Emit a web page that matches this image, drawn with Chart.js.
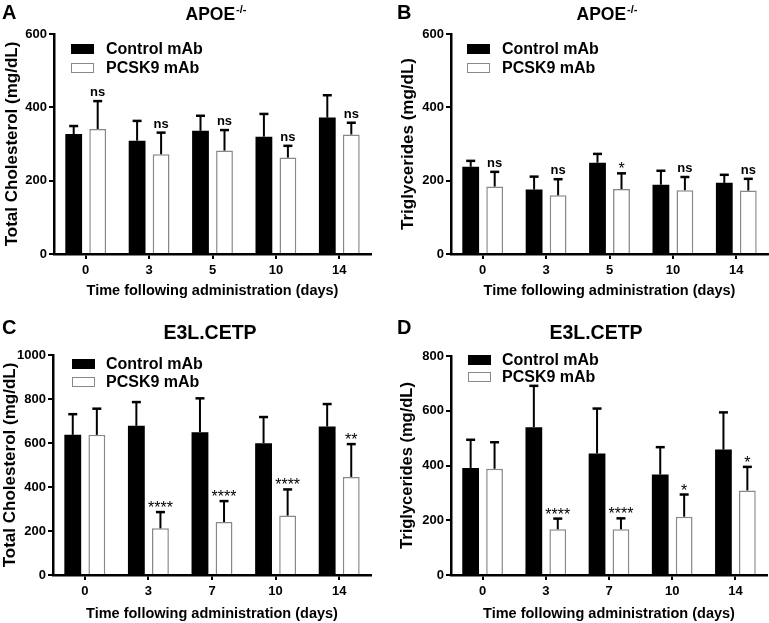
<!DOCTYPE html>
<html>
<head>
<meta charset="utf-8">
<style>
    body { margin: 0; background: #fff; }
    #wrap { position: relative; width: 769px; height: 623px; }
    canvas { position: absolute; }
</style>
</head>
<body>
<div id="wrap">
    <canvas id="panelA" width="385" height="300" style="left:0;top:0"></canvas>
    <canvas id="panelB" width="384" height="300" style="left:385px;top:0"></canvas>
    <canvas id="panelC" width="385" height="323" style="left:0;top:300px"></canvas>
    <canvas id="panelD" width="384" height="323" style="left:385px;top:300px"></canvas>
</div>

<script src="https://cdn.jsdelivr.net/npm/chart.js@4"></script>
<script>
    // days after dosing
    const daysApoe = ['0', '3', '5', '10', '14'];
    const daysE3l = ['0', '3', '7', '10', '14'];
    const seriesNames = ['Control mAb', 'PCSK9 mAb'];

    // A: APOE-/- total cholesterol (mean, upper SD)
    const tcApoeControl = [327, 309, 336, 320, 372];
    const tcApoeControlErr = [22, 54, 41, 62, 61];
    const tcApoePcsk9 = [341, 272, 282, 263, 326];
    const tcApoePcsk9Err = [76, 59, 56, 32, 32];
    const tcApoeSig = ['ns', 'ns', 'ns', 'ns', 'ns'];

    // B: APOE-/- triglycerides
    const tgApoeControl = [238, 176, 249, 189, 194];
    const tgApoeControlErr = [16, 35, 24, 38, 22];
    const tgApoePcsk9 = [184, 160, 177, 174, 173];
    const tgApoePcsk9Err = [40, 44, 43, 36, 32];
    const tgApoeSig = ['ns', 'ns', '*', 'ns', 'ns'];

    // C: E3L.CETP total cholesterol
    const tcE3lControl = [637, 678, 649, 599, 675];
    const tcE3lControlErr = [94, 108, 154, 119, 102];
    const tcE3lPcsk9 = [637, 212, 241, 270, 446];
    const tcE3lPcsk9Err = [119, 74, 95, 119, 149];
    const tcE3lSig = ['', '****', '****', '****', '**'];

    // D: E3L.CETP triglycerides
    const tgE3lControl = [391, 540, 444, 367, 458];
    const tgE3lControlErr = [103, 151, 164, 100, 136];
    const tgE3lPcsk9 = [388, 167, 167, 213, 309];
    const tgE3lPcsk9Err = [97, 39, 40, 81, 86];
    const tgE3lSig = ['', '****', '****', '*', '*'];

    const FONT = '"Liberation Sans", Arial, Helvetica, sans-serif';

    // error bars, star labels, legend, panel title and letter
    const panelDecor = {
        id: 'panelDecor',
        afterDatasetsDraw(chart, args, o) {
            const ctx = chart.ctx;
            const ys = chart.scales.y;
            ctx.save();
            ctx.strokeStyle = '#000';
            ctx.fillStyle = '#000';
            o.errors.forEach((errs, di) => {
                const meta = chart.getDatasetMeta(di);
                meta.data.forEach((bar, i) => {
                    const v = chart.data.datasets[di].data[i];
                    const y0 = ys.getPixelForValue(v);
                    const y1 = ys.getPixelForValue(v + errs[i]);
                    ctx.lineWidth = 2;
                    ctx.beginPath();
                    ctx.moveTo(bar.x, y0);
                    ctx.lineTo(bar.x, y1);
                    ctx.stroke();
                    ctx.lineWidth = 2.5;
                    ctx.beginPath();
                    ctx.moveTo(bar.x - 4.5, y1);
                    ctx.lineTo(bar.x + 4.5, y1);
                    ctx.stroke();
                    if (di === 1 && o.sig[i]) {
                        const s = o.sig[i];
                        ctx.textAlign = 'center';
                        ctx.textBaseline = 'alphabetic';
                        if (s === 'ns') {
                            ctx.font = 'bold 13px ' + FONT;
                            ctx.fillText(s, bar.x, y1 - 5);
                        } else {
                            ctx.font = '16px ' + FONT;
                            ctx.fillText(s, bar.x, y1 + 1);
                        }
                    }
                });
            });
            ctx.restore();
        },
        afterDraw(chart, args, o) {
            const ctx = chart.ctx;
            ctx.save();
            ctx.fillStyle = '#000';
            ctx.textBaseline = 'alphabetic';

            // panel letter
            ctx.font = 'bold 20px ' + FONT;
            ctx.textAlign = 'left';
            ctx.fillText(o.letter, o.letterX, o.letterY);

            // title with optional superscript
            ctx.font = 'bold ' + o.titleSize + 'px ' + FONT;
            const w1 = ctx.measureText(o.title).width;
            ctx.font = 'bold 11px ' + FONT;
            const w2 = o.sup ? ctx.measureText(o.sup).width + 1 : 0;
            const x0 = o.titleX - (w1 + w2) / 2;
            ctx.font = 'bold ' + o.titleSize + 'px ' + FONT;
            ctx.fillText(o.title, x0, o.titleY);
            if (o.sup) {
                ctx.font = 'bold 11px ' + FONT;
                ctx.fillText(o.sup, x0 + w1 + 1, o.titleY - 7);
            }

            // legend
            const fills = ['#000', '#fff'];
            const strokes = ['#000', '#888'];
            ctx.font = 'bold 16px ' + FONT;
            ctx.textBaseline = 'middle';
            seriesNames.forEach((name, i) => {
                const cy = o.legendY[i];
                ctx.fillStyle = fills[i];
                ctx.fillRect(o.legendX, cy - 5, 23, 10);
                ctx.strokeStyle = strokes[i];
                ctx.lineWidth = 1;
                ctx.strokeRect(o.legendX + 0.5, cy - 4.5, 22, 9);
                ctx.fillStyle = '#000';
                ctx.fillText(name, o.legendTextX, cy + 1);
            });
            ctx.restore();
        }
    };

    function makePanel(id, p) {
        const h = document.getElementById(id).height;
        return new Chart(document.getElementById(id), {
            type: 'bar',
            data: {
                labels: p.labels,
                datasets: [{
                    label: seriesNames[0],
                    data: p.control,
                    backgroundColor: '#000',
                    borderColor: '#000',
                    borderWidth: 0,
                    categoryPercentage: 0.757,
                    barPercentage: 0.7
                }, {
                    label: seriesNames[1],
                    data: p.pcsk9,
                    backgroundColor: '#fff',
                    borderColor: '#888',
                    borderWidth: 1.5,
                    categoryPercentage: 0.757,
                    barPercentage: 0.7
                }]
            },
            options: {
                responsive: false,
                animation: false,
                layout: { padding: { top: p.top, right: p.right, left: 0, bottom: 0 } },
                plugins: {
                    legend: { display: false },
                    title: { display: false },
                    tooltip: { enabled: false },
                    panelDecor: {
                        errors: [p.controlErr, p.pcsk9Err],
                        sig: p.sig,
                        letter: p.letter, letterX: p.letterX, letterY: p.letterY,
                        title: p.title, sup: p.sup, titleSize: p.titleSize,
                        titleX: p.titleX, titleY: p.titleY,
                        legendX: p.legendX, legendTextX: p.legendTextX, legendY: p.legendY
                    }
                },
                scales: {
                    x: {
                        afterFit: (s) => { s.height = h - p.bottom; },
                        grid: {
                            display: true, drawOnChartArea: false, offset: false,
                            tickLength: 5, lineWidth: 2, color: '#000'
                        },
                        border: { display: true, color: '#000', width: 2.5 },
                        ticks: { color: '#000', padding: 4, font: { family: FONT, size: 13, weight: 'bold' } },
                        title: {
                            display: true, text: 'Time following administration (days)', color: '#000',
                            font: { family: FONT, size: 14.5, weight: 'bold' },
                            padding: { top: 0, bottom: p.xTitlePad }
                        }
                    },
                    y: {
                        min: 0, max: p.max,
                        afterFit: (s) => { s.width = p.left; },
                        grid: {
                            display: true, drawOnChartArea: false,
                            tickLength: 5, lineWidth: 2, color: '#000'
                        },
                        border: { display: true, color: '#000', width: 2.5 },
                        ticks: {
                            stepSize: 200, color: '#000', padding: 2,
                            callback: (v) => String(v),
                            font: { family: FONT, size: 13, weight: 'bold' }
                        },
                        title: {
                            display: true, text: p.yTitle, color: '#000',
                            font: { family: FONT, size: p.yTitleSize, weight: 'bold' },
                            padding: { top: p.yTitlePad, bottom: 0 }
                        }
                    }
                }
            },
            plugins: [panelDecor]
        });
    }

    makePanel('panelA', {
        labels: daysApoe, control: tcApoeControl, controlErr: tcApoeControlErr,
        pcsk9: tcApoePcsk9, pcsk9Err: tcApoePcsk9Err, sig: tcApoeSig, max: 600,
        left: 54, top: 34, right: 14, bottom: 254, xTitlePad: 0,
        yTitle: 'Total Cholesterol (mg/dL)', yTitleSize: 17, yTitlePad: 2,
        letter: 'A', letterX: 2, letterY: 19,
        title: 'APOE', sup: '-/-', titleSize: 17.5, titleX: 216, titleY: 20,
        legendX: 71, legendTextX: 106, legendY: [49, 68]
    });

    makePanel('panelB', {
        labels: daysApoe, control: tgApoeControl, controlErr: tgApoeControlErr,
        pcsk9: tgApoePcsk9, pcsk9Err: tgApoePcsk9Err, sig: tgApoeSig, max: 600,
        left: 66, top: 34, right: 1, bottom: 254, xTitlePad: 0,
        yTitle: 'Triglycerides (mg/dL)', yTitleSize: 17, yTitlePad: 13,
        letter: 'B', letterX: 12, letterY: 19,
        title: 'APOE', sup: '-/-', titleSize: 17.5, titleX: 222, titleY: 20,
        legendX: 82, legendTextX: 117, legendY: [49, 68]
    });

    makePanel('panelC', {
        labels: daysE3l, control: tcE3lControl, controlErr: tcE3lControlErr,
        pcsk9: tcE3lPcsk9, pcsk9Err: tcE3lPcsk9Err, sig: tcE3lSig, max: 1000,
        left: 53, top: 55, right: 14, bottom: 275, xTitlePad: 0,
        yTitle: 'Total Cholesterol (mg/dL)', yTitleSize: 17, yTitlePad: 0,
        letter: 'C', letterX: 2, letterY: 34,
        title: 'E3L.CETP', sup: '', titleSize: 19.5, titleX: 210, titleY: 39,
        legendX: 72, legendTextX: 106, legendY: [64, 82]
    });

    makePanel('panelD', {
        labels: daysE3l, control: tgE3lControl, controlErr: tgE3lControlErr,
        pcsk9: tgE3lPcsk9, pcsk9Err: tgE3lPcsk9Err, sig: tgE3lSig, max: 800,
        left: 66, top: 56, right: 2, bottom: 275, xTitlePad: 0,
        yTitle: 'Triglycerides (mg/dL)', yTitleSize: 16.5, yTitlePad: 13,
        letter: 'D', letterX: 12, letterY: 34,
        title: 'E3L.CETP', sup: '', titleSize: 19.5, titleX: 211, titleY: 39,
        legendX: 83, legendTextX: 117, legendY: [60, 77]
    });
</script>
</body>
</html>
